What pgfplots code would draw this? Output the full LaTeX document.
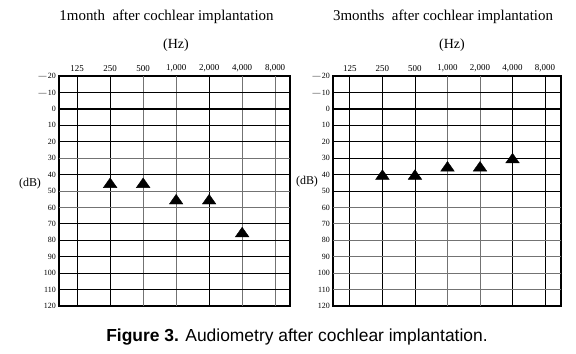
\documentclass[border=0pt]{standalone}
\usepackage{pgfplots}
\pgfplotsset{compat=1.18}
\usepackage{fontspec}
\setmainfont{Liberation Serif}
\newfontfamily\capfont{Liberation Sans}
\definecolor{gline}{gray}{0.45}
\begin{document}
\begin{tikzpicture}
\useasboundingbox (0bp,0bp) rectangle (576bp,-354bp);
\pgfplotsset{
  audio/.style={
    scale only axis,
    height=230bp,
    ymin=-20, ymax=120, y dir=reverse,
    axis line style={line width=1.6bp},
    xtick={0,...,6},
    xticklabels={125,250,500,{1,000},{2,000},{4,000},{8,000}},
    xticklabel pos=upper,
    ytick={-20,-10,0,10,20,30,40,50,60,70,80,90,100,110,120},
    yticklabels={\textemdash\,20,\textemdash\,10,0,10,20,30,40,50,60,70,80,90,100,110,120},
    tick style={draw=none},
    major tick length=0pt,
    xticklabel style={font=\fontsize{9}{10}\selectfont, inner sep=1bp, yshift=3bp},
    yticklabel style={font=\fontsize{8}{9}\selectfont, inner sep=1bp, xshift=-2bp},
    /pgf/number format/assume math mode=true,
    clip=false,
  },
  tri/.style={only marks, mark=triangle*, mark size=7.9pt, color=black,
    mark options={yshift=-1.6bp, yscale=0.82}},
}
% ---------- left panel ----------
\begin{axis}[audio, at={(59bp,-76bp)}, anchor=north west, width=231bp,
  xmin=-0.55, xmax=6.45]
  \pgfplotsinvokeforeach{0,1,4}{\draw[black, line width=0.9bp] (axis cs:#1,-20) -- (axis cs:#1,120);}
  \pgfplotsinvokeforeach{2,3,5,6}{\draw[gline, line width=0.9bp] (axis cs:#1,-20) -- (axis cs:#1,120);}
  \pgfplotsinvokeforeach{-10,10,20,40,70,80,90,100,110}{\draw[black, line width=0.9bp] (axis cs:-0.55,#1) -- (axis cs:6.45,#1);}
  \pgfplotsinvokeforeach{30,50,60}{\draw[gline, line width=0.9bp] (axis cs:-0.55,#1) -- (axis cs:6.45,#1);}
  \draw[black, line width=1.8bp] (axis cs:-0.55,0) -- (axis cs:6.45,0);
  \addplot[tri] coordinates {(1,45) (2,45) (3,55) (4,55) (5,75)};
\end{axis}
% ---------- right panel ----------
\begin{axis}[audio, at={(333bp,-76bp)}, anchor=north west, width=228bp,
  xmin=-0.52, xmax=6.49]
  \pgfplotsinvokeforeach{0,1,2,5,6}{\draw[black, line width=0.9bp] (axis cs:#1,-20) -- (axis cs:#1,120);}
  \pgfplotsinvokeforeach{3,4}{\draw[gline, line width=0.9bp] (axis cs:#1,-20) -- (axis cs:#1,120);}
  \pgfplotsinvokeforeach{-10,10,20,30,40,50}{\draw[black, line width=0.9bp] (axis cs:-0.52,#1) -- (axis cs:6.49,#1);}
  \pgfplotsinvokeforeach{60,70,80,90,100,110}{\draw[gline, line width=0.9bp] (axis cs:-0.52,#1) -- (axis cs:6.49,#1);}
  \draw[black, line width=1.8bp] (axis cs:-0.52,0) -- (axis cs:6.49,0);
  \addplot[tri] coordinates {(1,40) (2,40) (3,35) (4,35) (5,30)};
\end{axis}
% ---------- texts ----------
\node at (166.5bp,-17bp) {\fontsize{15}{18}\selectfont 1month\ \ after cochlear implantation};
\node at (443bp,-17bp) {\fontsize{15}{18}\selectfont 3months\ \ after cochlear implantation};
\node at (176bp,-45bp) {\fontsize{14}{16}\selectfont (Hz)};
\node at (452bp,-45bp) {\fontsize{14}{16}\selectfont (Hz)};
\node at (30bp,-184bp) {\fontsize{12}{14}\selectfont (dB)};
\node at (307bp,-182bp) {\fontsize{12}{14}\selectfont (dB)};
\node at (297bp,-337bp) {\capfont\fontsize{17.5}{20}\selectfont\textbf{Figure 3.} Audiometry after cochlear implantation.};
\end{tikzpicture}
\end{document}
